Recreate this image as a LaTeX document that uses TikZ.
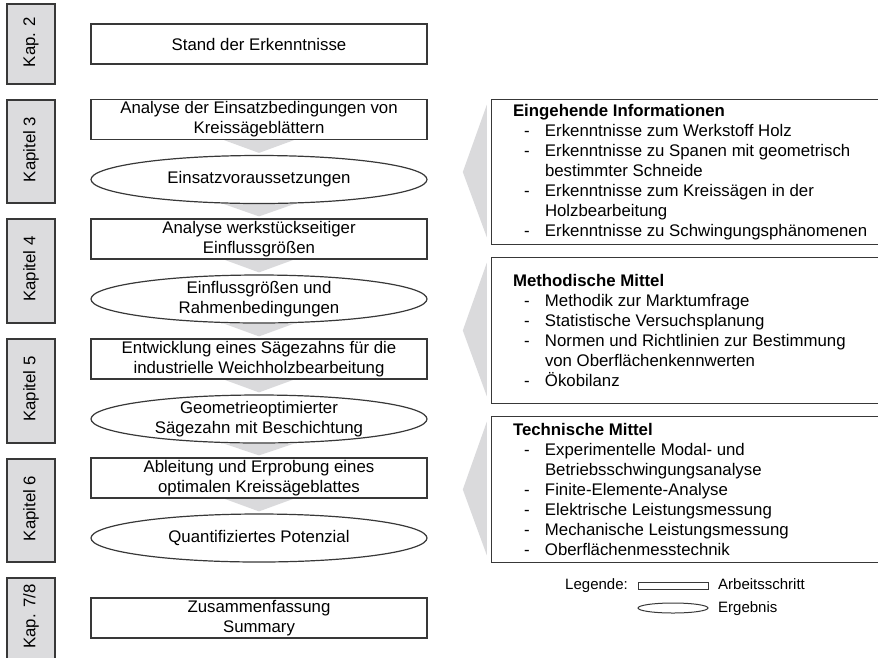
\documentclass[tikz,border=0pt]{standalone}
\usepackage{fontspec}
\setmainfont{Liberation Sans}
\usetikzlibrary{shapes.geometric,calc,backgrounds}
\definecolor{lineC}{HTML}{383838}
\definecolor{kapC}{HTML}{DCDCDE}
\definecolor{arrC}{HTML}{DADADC}
\newcommand\mainfnt{\fontsize{16.8}{20}\selectfont}
\newcommand\legfnt{\fontsize{15}{18}\selectfont}
\newcommand\dashitem{\makebox[32pt][l]{\hspace*{11pt}-}}
\newcommand\contitem{\hspace*{32pt}}
\tikzset{
 stepbox/.style={draw=lineC, line width=1.2pt, fill=white, rectangle, minimum width=336pt, minimum height=40pt, inner sep=0pt, align=center, font=\mainfnt},
 resultell/.style={draw=lineC, line width=1.2pt, fill=white, ellipse, minimum width=336pt, minimum height=48pt, inner sep=0pt},
 restext/.style={align=center, font=\mainfnt, inner sep=0pt},
 kapbox/.style={draw=lineC, line width=1.2pt, fill=kapC, minimum width=48pt, inner sep=0pt},
 kaptext/.style={rotate=90, font=\mainfnt, inner sep=0pt, xshift=2pt},
 infobox/.style={minimum width=400pt, inner sep=0pt},
 infoframe/.style={draw=lineC, line width=1.2pt},
 infotext/.style={anchor=west, align=left, font=\mainfnt, inner sep=0pt},
 legtext/.style={font=\legfnt, inner sep=0pt},
 flowarrow/.style={fill=arrC, draw=none},
}
\begin{document}
\begin{tikzpicture}[x=1pt,y=-1pt]
\useasboundingbox (0,0) rectangle (878,657);
% chapter boxes
\node[kapbox, minimum height=80pt] (K2) at (31,44) {};
\node[kaptext] (K2t) at (K2) {Kap. 2};
\node[kapbox, minimum height=103pt] (K3) at (31,151.5) {};
\node[kaptext] (K3t) at (K3) {Kapitel 3};
\node[kapbox, minimum height=104pt] (K4) at (31,271) {};
\node[kaptext] (K4t) at (K4) {Kapitel 4};
\node[kapbox, minimum height=104pt] (K5) at (31,391) {};
\node[kaptext] (K5t) at (K5) {Kapitel 5};
\node[kapbox, minimum height=103pt] (K6) at (31,510.5) {};
\node[kaptext] (K6t) at (K6) {Kapitel 6};
\node[kapbox, minimum height=81pt] (K78) at (31,618.5) {};
\node[kaptext] (K78t) at (K78) {Kap. 7/8};
% main flow
\node[stepbox] (S) at (259,44) {Stand der Erkenntnisse};
\node[stepbox] (A1) at (259,119.5) {Analyse der Einsatzbedingungen von\\Kreissägeblättern};
\node[resultell] (E1) at (259,179.5) {};
\node[restext] (E1t) at (E1) {Einsatzvoraussetzungen};
\node[stepbox] (A2) at (259,239) {Analyse werkstückseitiger\\Einflussgrößen};
\node[resultell] (E2) at (259,299) {};
\node[restext] (E2t) at (E2) {Einflussgrößen und\\Rahmenbedingungen};
\node[stepbox] (A3) at (259,359) {Entwicklung eines Sägezahns für die\\industrielle Weichholzbearbeitung};
\node[resultell] (E3) at (259,419) {};
\node[restext] (E3t) at (E3) {Geometrieoptimierter\\Sägezahn mit Beschichtung};
\node[stepbox] (A4) at (259,478) {Ableitung und Erprobung eines\\optimalen Kreissägeblattes};
\node[resultell] (E4) at (259,538) {};
\node[restext] (E4t) at (E4) {Quantifiziertes Potenzial};
\node[stepbox] (Z) at (259,618) {Zusammenfassung\\Summary};
% right info boxes (open to the right edge)
\node[infobox, minimum height=144pt] (B1) at (692,172) {};
\node[infobox, minimum height=145pt] (B2) at (692,330.5) {};
\node[infobox, minimum height=145pt] (B3) at (692,489.5) {};
\foreach \b in {B1,B2,B3}
  \draw[infoframe] (\b.north east) -- (\b.north west) -- (\b.south west) -- (\b.south east);
\node[infotext] (B1t) at ($(B1.west)+(21,0)$) {\textbf{Eingehende Informationen}\\
\dashitem Erkenntnisse zum Werkstoff Holz\\
\dashitem Erkenntnisse zu Spanen mit geometrisch\\
\contitem bestimmter Schneide\\
\dashitem Erkenntnisse zum Kreissägen in der\\
\contitem Holzbearbeitung\\
\dashitem Erkenntnisse zu Schwingungsphänomenen};
\node[infotext] (B2t) at ($(B2.west)+(21,0)$) {\textbf{Methodische Mittel}\\
\dashitem Methodik zur Marktumfrage\\
\dashitem Statistische Versuchsplanung\\
\dashitem Normen und Richtlinien zur Bestimmung\\
\contitem von Oberflächenkennwerten\\
\dashitem Ökobilanz};
\node[infotext] (B3t) at ($(B3.west)+(21,0)$) {\textbf{Technische Mittel}\\
\dashitem Experimentelle Modal- und\\
\contitem Betriebsschwingungsanalyse\\
\dashitem Finite-Elemente-Analyse\\
\dashitem Elektrische Leistungsmessung\\
\dashitem Mechanische Leistungsmessung\\
\dashitem Oberflächenmesstechnik};
% grey arrows
\begin{scope}[on background layer]
\foreach \u/\l in {A1/E1, E1/A2, A2/E2, E2/A3, A3/E3, E3/A4, A4/E4}
  \fill[flowarrow] ($(\u.south)+(-35,0)$) -- ($(\u.south)+(35,0)$) -- ($(\l.north)+(0,-2)$) -- cycle;
\end{scope}
\foreach \b in {B1,B2,B3}
  \fill[flowarrow] ($(\b.north west)+(-5,5)$) -- ($(\b.west)+(-29,0)$) -- ($(\b.south west)+(-5,-7)$) -- cycle;
% legend
\node[legtext, anchor=base east] (LegL) at (628,589) {Legende:};
\node[draw=lineC, line width=1pt, minimum width=70pt, minimum height=7pt, inner sep=0pt] (LegR) at (673,585.5) {};
\node[draw=lineC, line width=1pt, ellipse, minimum width=70pt, minimum height=10pt, inner sep=0pt] (LegE) at (673,608) {};
\node[legtext, anchor=base west] (LegRt) at (718,589) {Arbeitsschritt};
\node[legtext, anchor=base west] (LegEt) at (718,612) {Ergebnis};
\end{tikzpicture}
\end{document}
